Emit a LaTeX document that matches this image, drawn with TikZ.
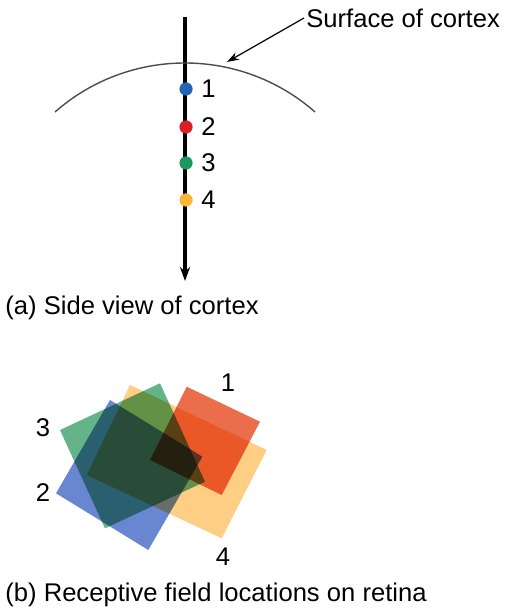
\documentclass[tikz,border=0pt]{standalone}
\usepackage{fontspec}
\setmainfont{Liberation Sans}
\usetikzlibrary{arrows.meta,positioning}

\definecolor{cblue}{RGB}{35,100,185}
\definecolor{cred}{RGB}{220,30,40}
\definecolor{cgreen}{RGB}{30,150,95}
\definecolor{corange}{RGB}{253,180,55}
\definecolor{fblue}{RGB}{105,135,208}
\definecolor{fgreen}{RGB}{100,180,135}
\definecolor{fred}{RGB}{234,110,75}
\definecolor{forange}{RGB}{254,206,132}

\tikzset{
  dot/.style={circle, inner sep=0pt, minimum size=6.6pt},
  num/.style={font=\fontsize{12.8}{15}\selectfont, inner sep=1pt},
  field/.style={draw=none}
}

\begin{document}
\begin{tikzpicture}[x=0.5pt, y=-0.5pt]
  \useasboundingbox (0,0) rectangle (504,608);

  % electrode
  \coordinate (top) at (185,17);
  \coordinate (bot) at (185,281);
  \draw[line width=1.6pt, -{Stealth[length=7pt,width=5pt]}] (top) -- (bot);

  % surface
  \draw[line width=0.7pt, black!70] (55,112) arc[start angle=-131.3, end angle=-48.7, radius=197];
  \node[num, anchor=west] (surf) at (304,18) {Surface of cortex};
  \coordinate (tip) at (227,62);
  \draw[line width=0.6pt, -{Stealth[length=6pt,width=4pt]}] (surf.west) -- (tip);

  % recording sites
  \node[dot, fill=cblue]   (d1) at (186,89)  {};
  \node[dot, fill=cred]    (d2) at (186,127) {};
  \node[dot, fill=cgreen]  (d3) at (186,163) {};
  \node[dot, fill=corange] (d4) at (186,200) {};
  \node[num, right=3pt of d1] (n1) {1};
  \node[num, right=3pt of d2] (n2) {2};
  \node[num, right=3pt of d3] (n3) {3};
  \node[num, right=3pt of d4] (n4) {4};

  \node[num, anchor=west] (capa) at (3,308) {(a) Side view of cortex};

  % receptive fields
  \begin{scope}[blend mode=multiply]
    \fill[field, forange] (130,385) -- (266.7,450) -- (221.7,538.3) -- (86.7,475) -- cycle;
    \fill[field, fblue] (110,400) -- (202.3,456.7) -- (148.3,550) -- (56,493.3) -- cycle;
    \fill[field, fgreen] (160,383.3) -- (205,481.7) -- (105,528.3) -- (60,430) -- cycle;
    \fill[field, fred] (186.7,386.7) -- (260,421.7) -- (221.7,495) -- (150,460) -- cycle;
  \end{scope}

  \node[num] (f1) at (228,383) {1};
  \node[num] (f3) at (43,428)  {3};
  \node[num] (f2) at (43,493)  {2};
  \node[num] (f4) at (223,557) {4};

  \node[num, anchor=west] (capb) at (3,595) {(b) Receptive field locations on retina};
\end{tikzpicture}
\end{document}
